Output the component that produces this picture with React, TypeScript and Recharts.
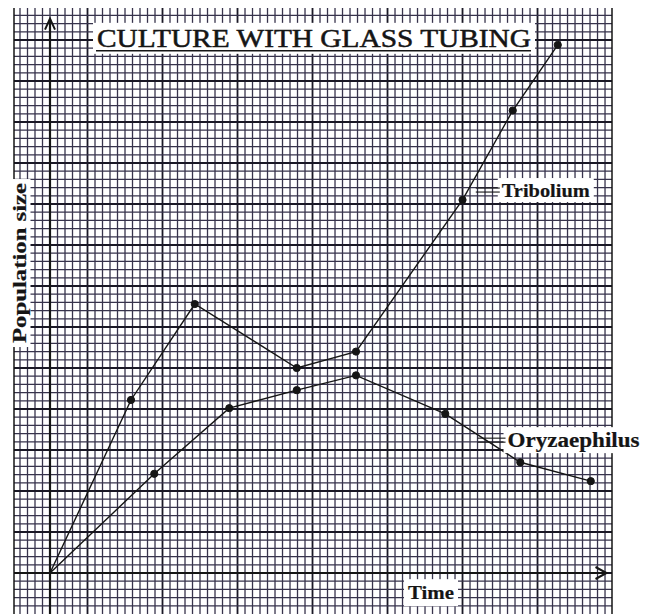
import React from 'react';
import { LineChart, Line, XAxis, YAxis, ReferenceLine, ReferenceDot } from 'recharts';

// time / population readings, in graph-paper squares from the origin
const triboliumTime = [0, 10.8, 19.3, 32.9, 40.8, 55.0, 61.7, 67.7];
const triboliumSize = [0, 21.1, 32.8, 25.0, 27.0, 45.5, 56.4, 64.4];
const oryzaephilusTime = [0, 13.9, 23.9, 32.9, 40.8, 52.7, 62.7, 72.1];
const oryzaephilusSize = [0, 12.1, 20.1, 22.3, 24.1, 19.4, 13.5, 11.2];

const titleText = 'CULTURE WITH GLASS TUBING';
const yLabel = 'Population size';
const xLabel = 'Time';
const seriesNames = ['Tribolium', 'Oryzaephilus'];

const tribolium = triboliumTime.map((x, i) => ({ x, y: triboliumSize[i] }));
const oryzaephilus = oryzaephilusTime.map((x, i) => ({ x, y: oryzaephilusSize[i] }));

// graph paper squares
const gridX = Array.from({ length: 79 }, (_, i) => i - 4);
const gridY = Array.from({ length: 73 }, (_, i) => i - 4);

const serif = '"Liberation Serif", "Times New Roman", serif';
const ink = '#151515';

const Dot = (props: any) => {
  const { cx, cy, index } = props;
  if (index === 0) return <g key={`d-${index}`} />;
  return <circle key={`d-${index}`} cx={cx} cy={cy} r={3.6} fill={ink} stroke={ink} />;
};

const Tag = ({ cx, cy, text, size, w, h, rotate, underline, leader }: any) => (
  <g transform={rotate ? `rotate(-90 ${cx} ${cy})` : undefined}>
    <rect x={cx - w / 2} y={cy - h / 2} width={w} height={h} fill="#fff" />
    <text
      x={cx}
      y={cy}
      textAnchor="middle"
      dominantBaseline="central"
      fontFamily={serif}
      fontWeight={underline ? 'normal' : 'bold'}
      fontSize={size}
      fill={ink}
      stroke={ink}
      strokeWidth={underline ? 0.5 : 0.2}
      textLength={w - 8}
      lengthAdjust="spacingAndGlyphs"
    >
      {text}
    </text>
    {underline && (
      <line x1={cx - w / 2 + 3} x2={cx + w / 2 - 4} y1={cy + h / 2 - 3} y2={cy + h / 2 - 3} stroke={ink} strokeWidth={1.5} />
    )}
    {leader && (
      <g stroke={ink} strokeWidth={1.1}>
        <line x1={cx - w / 2 - leader} x2={cx - w / 2 + 2} y1={cy - 2} y2={cy - 2} />
        <line x1={cx - w / 2 - leader} x2={cx - w / 2 + 2} y1={cy + 2} y2={cy + 2} />
      </g>
    )}
  </g>
);

const ArrowUp = ({ cx, cy }: any) => (
  <path d={`M${cx - 5},${cy + 11} L${cx},${cy} L${cx + 5},${cy + 11}`} fill="none" stroke={ink} strokeWidth={2} />
);
const ArrowRight = ({ cx, cy }: any) => (
  <path d={`M${cx - 11},${cy - 6} L${cx},${cy} L${cx - 11},${cy + 6}`} fill="none" stroke={ink} strokeWidth={2} />
);

export default function App() {
  return (
    <LineChart width={641} height={606} margin={{ top: 0, right: 37, bottom: 0, left: 6 }}>
      <XAxis type="number" dataKey="x" domain={[-4.8, 74.93]} allowDataOverflow hide />
      <YAxis type="number" dataKey="y" domain={[-5, 68.9]} allowDataOverflow hide />

      {gridX.map((k) => {
        const bold = ((k % 10) + 10) % 10 === 5;
        return (
          <ReferenceLine key={`gx${k}`} x={k} stroke={bold ? '#1a1826' : '#37334c'} strokeWidth={bold ? 1.8 : 1.3} />
        );
      })}
      {gridY.map((k) => {
        const bold = k % 5 === 0;
        return (
          <ReferenceLine key={`gy${k}`} y={k} stroke={bold ? '#1a1826' : '#37334c'} strokeWidth={bold ? 1.8 : 1.3} />
        );
      })}
      <ReferenceLine x={-4.8} stroke={ink} strokeWidth={1.5} />
      <ReferenceLine x={74.93} stroke={ink} strokeWidth={1.5} />

      {/* axes with arrow heads */}
      <ReferenceLine segment={[{ x: 0, y: -5 }, { x: 0, y: 67.6 }]} stroke={ink} strokeWidth={2.2} />
      <ReferenceLine segment={[{ x: -4.8, y: 0 }, { x: 74.2, y: 0 }]} stroke={ink} strokeWidth={2.2} />
      <ReferenceDot x={0} y={67.6} shape={(p: any) => <ArrowUp {...p} />} />
      <ReferenceDot x={74.2} y={0} shape={(p: any) => <ArrowRight {...p} />} />

      <Line data={tribolium} dataKey="y" name={seriesNames[0]} stroke={ink} strokeWidth={1.4} dot={Dot} isAnimationActive={false} />
      <Line data={oryzaephilus} dataKey="y" name={seriesNames[1]} stroke={ink} strokeWidth={1.4} dot={Dot} isAnimationActive={false} />

      <ReferenceDot x={35.2} y={65.2} shape={(p: any) => <Tag {...p} text={titleText} size={25} w={442} h={31} underline />} />
      <ReferenceDot x={-4} y={37.8} shape={(p: any) => <Tag {...p} text={yLabel} size={18} w={168} h={21} rotate />} />
      <ReferenceDot x={50.8} y={-2.4} shape={(p: any) => <Tag {...p} text={xLabel} size={19} w={54} h={27} />} />
      <ReferenceDot x={66.1} y={46.7} shape={(p: any) => <Tag {...p} text={seriesNames[0]} size={19} w={96} h={24} leader={22} />} />
      <ReferenceDot x={69.8} y={16.2} shape={(p: any) => <Tag {...p} text={seriesNames[1]} size={20} w={140} h={26} leader={26} />} />
    </LineChart>
  );
}
